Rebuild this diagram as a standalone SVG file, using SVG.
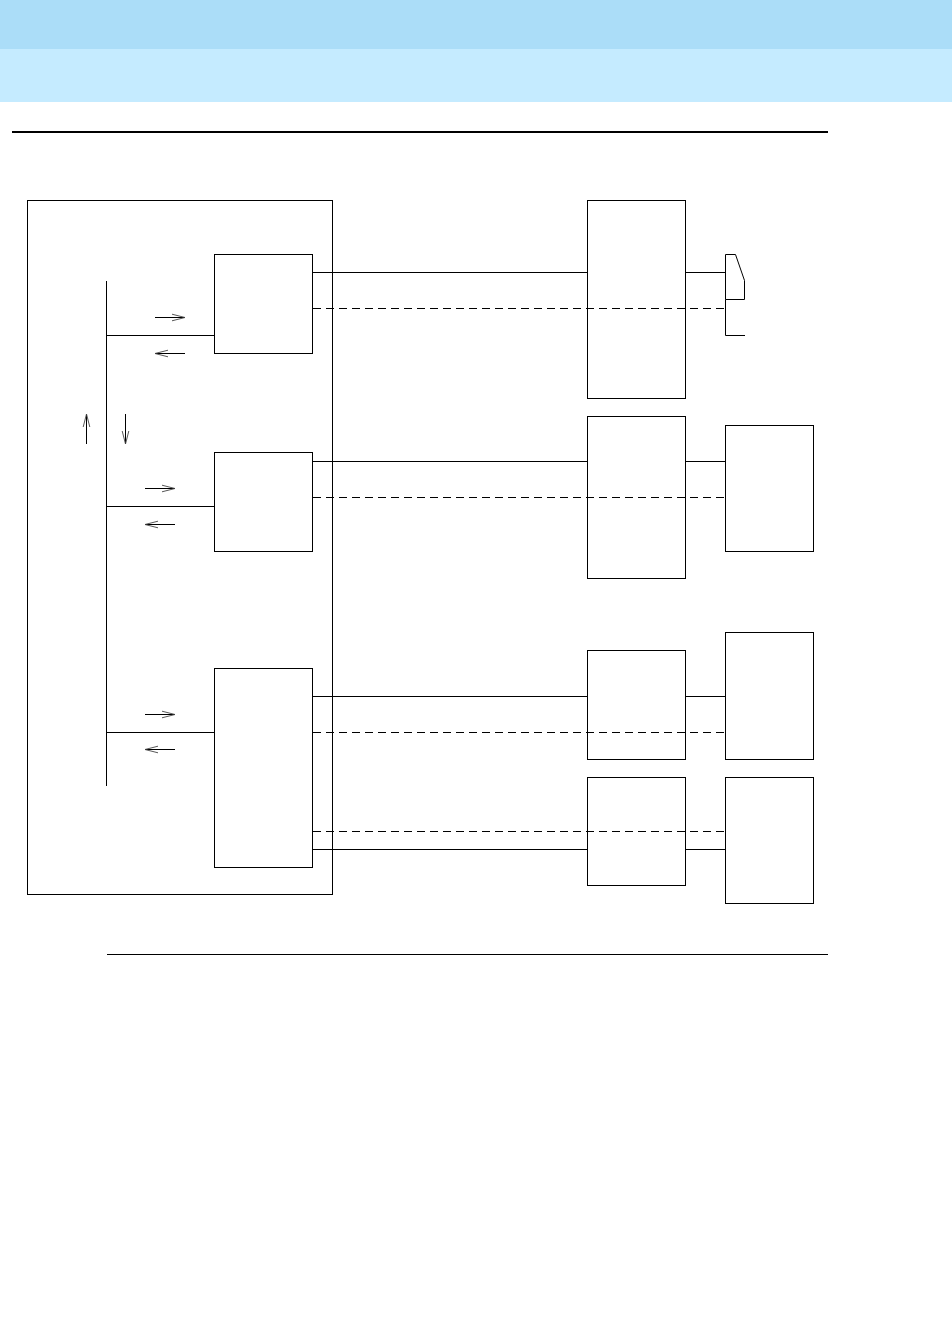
<svg xmlns="http://www.w3.org/2000/svg" width="952" height="1326" viewBox="0 0 952 1326">
<style>
.b{fill:none;stroke:#000;stroke-width:1}
.s{fill:none;stroke:#000;stroke-width:1}
.d{fill:none;stroke:#000;stroke-width:1;stroke-dasharray:8 5}
.a{fill:none;stroke:#000;stroke-width:1;marker-end:url(#ah)}
</style>
<defs>
<marker id="ah" markerUnits="userSpaceOnUse" markerWidth="14" markerHeight="10" refX="13" refY="5" orient="auto">
<path d="M0,1.700 L13,5 L0,8.300" fill="none" stroke="#444" stroke-width="0.9"/>
</marker>
</defs>
<rect x="0" y="0" width="952" height="49" fill="#abddf8"/>
<rect x="0" y="49" width="952" height="53" fill="#c5ebff"/>
<rect x="12" y="131" width="816" height="2" fill="#000"/>
<rect x="107" y="954" width="721" height="1" fill="#000"/>
<g id="outer"><rect class="b" x="27.500" y="200.500" width="305" height="694"/></g>
<g id="card1"><rect class="b" x="214.500" y="254.500" width="98" height="99"/></g>
<g id="card2"><rect class="b" x="214.500" y="452.500" width="98" height="99"/></g>
<g id="card3"><rect class="b" x="214.500" y="668.500" width="98" height="199"/></g>
<g id="mid1"><rect class="b" x="587.500" y="200.500" width="98" height="198"/></g>
<g id="mid2"><rect class="b" x="587.500" y="416.500" width="98" height="162"/></g>
<g id="mid3"><rect class="b" x="587.500" y="650.500" width="98" height="109"/></g>
<g id="mid4"><rect class="b" x="587.500" y="777.500" width="98" height="108"/></g>
<g id="phone"><path class="s" d="M725.500,299.500 V254.500 H735.500 L744.500,280.500 V299.500 H725.500 M725.500,299.500 V335.500 H745"/></g>
<g id="end2"><rect class="b" x="725.500" y="425.500" width="88" height="126"/></g>
<g id="end3"><rect class="b" x="725.500" y="632.500" width="88" height="127"/></g>
<g id="end4"><rect class="b" x="725.500" y="777.500" width="88" height="126"/></g>
<g id="connectors">
<path class="s" d="M106.500,281 V786"/>
<path class="s" d="M107,335.500 H214 M107,506.500 H214 M107,732.500 H214"/>
<path class="s" d="M313,272.500 H587 M686,272.500 H725"/>
<path class="d" d="M313,308.500 H725"/>
<path class="s" d="M313,461.500 H587 M686,461.500 H725"/>
<path class="d" d="M313,497.500 H725"/>
<path class="s" d="M313,696.500 H587 M686,696.500 H725"/>
<path class="d" d="M313,732.500 H725"/>
<path class="d" d="M313,831.500 H725"/>
<path class="s" d="M313,849.500 H587 M686,849.500 H725"/>
<path class="a" d="M155,317.500 H185"/>
<path class="a" d="M185,353.500 H155"/>
<path class="a" d="M145,488.500 H175"/>
<path class="a" d="M175,524.500 H145"/>
<path class="a" d="M145,714.500 H175"/>
<path class="a" d="M175,749.500 H145"/>
<path class="a" d="M86.500,444 V414"/>
<path class="a" d="M125.500,414 V444"/>
</g>
</svg>
